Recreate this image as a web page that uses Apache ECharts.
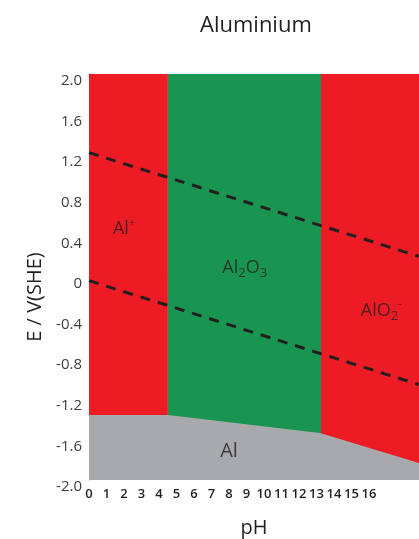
<!DOCTYPE html>
<html>
<head>
<meta charset="utf-8">
<script src="https://cdn.jsdelivr.net/npm/echarts@6/dist/echarts.min.js"></script>
<style>
html,body{margin:0;padding:0;background:#fff;}
#chart{width:419px;height:539px;}
</style>
</head>
<body>
<div id="chart"></div>
<script>
// ---- data ----
const title = 'Aluminium';
const xTickLabels = ['0','1','2','3','4','5','6','7','8','9','10','11','12','13','14','15','16'];
const yTickLabels = ['-2.0','-1.6','-1.2','-0.8','-0.4','0','0.4','0.8','1.2','1.6','2.0'];
// stability regions along pH (x from, x to)
const regionFrom = [0, 4.51, 13.26];
const regionTo   = [4.51, 13.26, 18.86];
const regionColorKey = ['ion', 'oxide', 'ion'];
// Al (metal) upper boundary
const alBoundaryPH = [0, 4.51, 13.2, 18.86];
const alBoundaryE  = [-1.36, -1.36, -1.537, -1.833];
// water stability lines (dashed)
const upperWaterPH = [0, 18.86];
const upperWaterE  = [1.225, 0.203];
const lowerWaterPH = [0, 18.86];
const lowerWaterE  = [-0.036, -1.06];
// species labels
const speciesText = ['{m|Al}{sup|+}', '{m|Al}{sub|2}{m|O}{sub|3}', '{m|AlO}{sub|2}{sup|-}', '{b|Al}'];
const speciesPH   = [2.0, 8.9, 16.7, 8.0];
const speciesE    = [0.47, 0.09, -0.33, -1.72];

const RED = '#ed1c24', GREEN = '#1a9551', GRAY = '#a7a9ac', INK = '#231f20';
const colorOf = {ion: RED, oxide: GREEN};

const chart = echarts.init(document.getElementById('chart'));
const zip = (a, b) => a.map((v, i) => [v, b[i]]);

const option = {
  animation: false,
  backgroundColor: '#fff',
  title: {
    text: title, left: 195, top: 10,
    textStyle: {fontFamily: 'Open Sans', fontSize: 22, fontWeight: 'normal', color: INK}
  },
  grid: {left: 89, top: 74, right: 0, height: 406, outerBoundsMode: 'none', containLabel: false},
  xAxis: {
    type: 'value', min: 0, max: 18.86, interval: 1,
    name: 'pH', nameLocation: 'middle', nameGap: 38,
    nameTextStyle: {fontFamily: 'Open Sans', fontSize: 20, color: INK},
    axisLine: {show: true, lineStyle: {color: '#9a9a9a', width: 1}},
    axisTick: {show: false},
    splitLine: {show: false},
    axisLabel: {
      margin: 8, fontFamily: 'Open Sans', fontSize: 13, fontWeight: 600, color: INK,
      showMaxLabel: false,
      formatter: v => (Number.isInteger(v) && v < xTickLabels.length) ? xTickLabels[v] : ''
    }
  },
  yAxis: {
    type: 'value', min: -2, max: 2, interval: 0.4,
    name: 'E / V(SHE)', nameLocation: 'middle', nameGap: 44, nameRotate: 90,
    nameTextStyle: {fontFamily: 'Open Sans', fontSize: 20, color: INK, padding: [0, 40, 0, 0]},
    axisLine: {show: true, lineStyle: {color: '#6d6e71', width: 1}},
    axisTick: {show: false},
    splitLine: {show: false},
    axisLabel: {
      margin: 7, fontFamily: 'Open Sans', fontSize: 15, color: '#3d3d3f',
      verticalAlign: 'top', lineHeight: 14,
      formatter: v => yTickLabels[Math.round((v + 2) / 0.4)]
    }
  },
  series: [
    {
      type: 'line', data: [], z: 1, silent: true,
      markArea: {
        silent: true,
        data: regionFrom.map((x0, i) => [
          {xAxis: x0, yAxis: -2, itemStyle: {color: colorOf[regionColorKey[i]], opacity: 1}},
          {xAxis: regionTo[i], yAxis: 2}
        ])
      }
    },
    {
      type: 'line', z: 2, silent: true, symbol: 'none',
      data: zip(alBoundaryPH, alBoundaryE),
      lineStyle: {width: 0},
      areaStyle: {color: GRAY, opacity: 1, origin: 'start'}
    },
    {
      type: 'line', z: 3, silent: true, symbol: 'none',
      data: zip(upperWaterPH, upperWaterE),
      lineStyle: {color: INK, width: 3, type: [10, 8]}
    },
    {
      type: 'line', z: 3, silent: true, symbol: 'none',
      data: zip(lowerWaterPH, lowerWaterE),
      lineStyle: {color: INK, width: 3, type: [10, 8]}
    },
    {
      type: 'scatter', z: 4, silent: true, symbolSize: 0,
      data: speciesText.map((t, i) => ({value: [speciesPH[i], speciesE[i]], name: t})),
      label: {
        show: true, position: 'inside',
        formatter: p => p.name,
        rich: {
          m: {fontFamily: 'Open Sans', fontSize: 18, color: INK, lineHeight: 24},
          b: {fontFamily: 'Open Sans', fontSize: 20, color: INK, lineHeight: 24},
          sub: {fontFamily: 'Open Sans', fontSize: 13, color: INK, verticalAlign: 'bottom', lineHeight: 22},
          sup: {fontFamily: 'Open Sans', fontSize: 11, color: INK, verticalAlign: 'top', lineHeight: 22}
        }
      }
    }
  ]
};
chart.setOption(option);
</script>
</body>
</html>
